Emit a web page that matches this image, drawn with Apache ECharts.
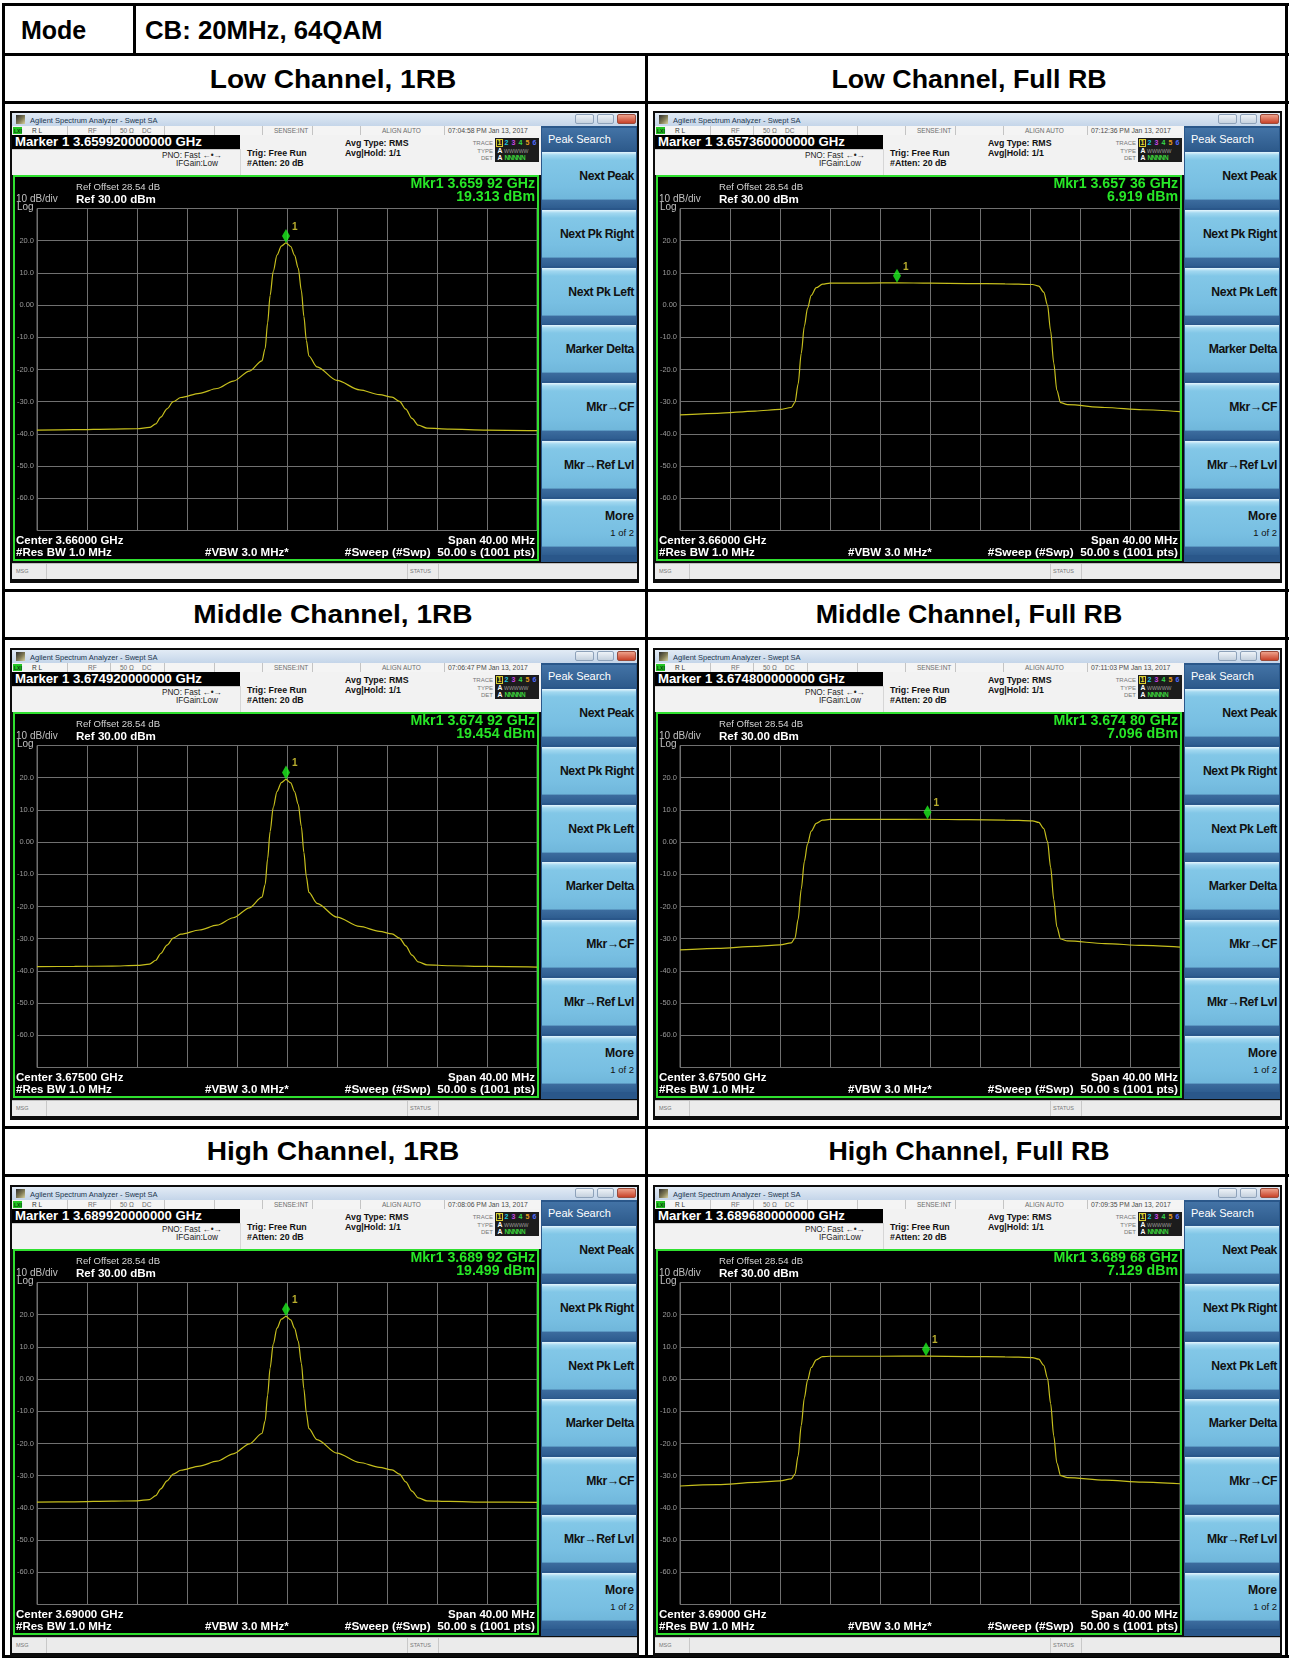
<!DOCTYPE html>
<html>
<head>
<meta charset="utf-8">
<title>CB: 20MHz, 64QAM</title>
<script src="https://cdn.jsdelivr.net/npm/echarts@6.0.0/dist/echarts.min.js"></script>
<style>
  html, body { margin: 0; padding: 0; }
  body { width: 1290px; height: 1659px; background: #fff; position: relative; overflow: hidden;
         font-family: "Liberation Sans", Arial, sans-serif; }
  .abs { position: absolute; }
  .t { position: absolute; white-space: nowrap; }
</style>
</head>
<body>
<script>
// ---- measurement data -------------------------------------------------------
const channelNames = ['Low Channel', 'Middle Channel', 'High Channel'];
const allocations = ['1RB', 'Full RB'];
const modeText = 'CB: 20MHz, 64QAM';

// one entry per screen, row by row: [low 1RB, low full, mid 1RB, mid full, high 1RB, high full]
const centerGHz = [3.66, 3.66, 3.675, 3.675, 3.69, 3.69];
const markerGHz = [3.65992, 3.65736, 3.67492, 3.6748, 3.68992, 3.68968];
const markerDbm = [19.313, 6.919, 19.454, 7.096, 19.499, 7.129];
const sweepClock = ['07:04:58 PM', '07:12:36 PM', '07:06:47 PM', '07:11:03 PM', '07:08:06 PM', '07:09:35 PM'];
const sweepDate = 'Jan 13, 2017';

const spanMHz = 40;
const refLevelDbm = 30;
const dbPerDiv = 10;
const levelTicks = [20, 10, 0, -10, -20, -30, -40, -50, -60];

const softkeys = ['Next Peak', 'Next Pk Right', 'Next Pk Left', 'Marker Delta', 'Mkr\u2192CF', 'Mkr\u2192Ref Lvl', 'More'];

// traces: [offset from center (MHz), level (dBm)]
const lowOneRb = [[-20,-38.8],[-17,-38.7],[-14,-38.5],[-12,-38.4],[-11,-38.0],[-10.5,-36.9],[-10.1,-34.8],[-9.6,-32.2],[-9.1,-30.0],[-8.5,-28.7],[-7.0,-27.4],[-5.6,-25.9],[-4.3,-23.6],[-3.0,-20.5],[-2.0,-17.3],[-1.75,-13.5],[-1.55,-5.5],[-1.35,3.0],[-1.1,10.5],[-0.8,15.5],[-0.45,18.3],[-0.08,19.313],[0.3,18.2],[0.6,15.5],[0.9,11.5],[1.15,4.5],[1.35,-3.5],[1.55,-11.0],[1.75,-15.8],[2.4,-19.2],[4.0,-23.4],[5.8,-26.3],[7.4,-27.8],[8.4,-28.6],[9.0,-29.9],[9.5,-32.3],[10.0,-35.2],[10.5,-37.3],[11.2,-38.2],[13,-38.5],[16,-38.8],[20,-39.0]];
const lowFullRb = [[-20,-34.1],[-17,-33.6],[-14,-32.9],[-12,-32.4],[-11.1,-31.8],[-10.8,-30.2],[-10.55,-24.5],[-10.3,-15.0],[-10.05,-6.5],[-9.8,-1.0],[-9.5,3.0],[-9.1,5.4],[-8.6,6.5],[-8.0,6.85],[-5,6.85],[-2.64,6.919],[0,6.8],[3,6.7],[6,6.6],[8.2,6.4],[8.7,5.9],[9.1,4.0],[9.4,0.0],[9.65,-8.0],[9.9,-18.0],[10.15,-26.5],[10.45,-30.3],[11,-30.9],[14,-31.8],[17,-32.5],[20,-33.1]];
const midOneRb = [[-20,-38.7],[-17,-38.6],[-14,-38.5],[-12,-38.3],[-11,-37.9],[-10.5,-36.7],[-10.1,-34.6],[-9.6,-32.0],[-9.1,-29.8],[-8.5,-28.6],[-7.0,-27.3],[-5.6,-25.8],[-4.3,-23.5],[-3.0,-20.4],[-2.0,-17.1],[-1.75,-13.2],[-1.55,-5.2],[-1.35,3.3],[-1.1,10.8],[-0.8,15.7],[-0.45,18.5],[-0.08,19.454],[0.3,18.4],[0.6,15.7],[0.9,11.7],[1.15,4.8],[1.35,-3.2],[1.55,-10.8],[1.75,-15.6],[2.4,-19.0],[4.0,-23.3],[5.8,-26.2],[7.4,-27.7],[8.4,-28.5],[9.0,-29.8],[9.5,-32.2],[10.0,-35.1],[10.5,-37.2],[11.2,-38.1],[13,-38.4],[16,-38.6],[20,-38.8]];
const midFullRb = [[-20,-33.5],[-17,-33.0],[-14,-32.4],[-12,-31.9],[-11.1,-31.3],[-10.8,-29.8],[-10.55,-24.0],[-10.3,-14.6],[-10.05,-6.0],[-9.8,-0.6],[-9.5,3.4],[-9.1,5.8],[-8.6,6.8],[-8.0,7.05],[-4,7.05],[-0.2,7.096],[3,6.95],[6,6.85],[8.2,6.6],[8.7,6.1],[9.1,4.2],[9.4,0.2],[9.65,-7.8],[9.9,-17.8],[10.15,-26.3],[10.45,-30.1],[11,-30.7],[14,-31.5],[17,-32.1],[20,-32.6]];
const highOneRb = [[-20,-38.2],[-17,-38.1],[-14,-37.9],[-12,-37.8],[-11,-37.4],[-10.5,-36.2],[-10.1,-34.1],[-9.6,-31.6],[-9.1,-29.5],[-8.5,-28.3],[-7.0,-27.0],[-5.6,-25.5],[-4.3,-23.2],[-3.0,-20.1],[-2.0,-16.9],[-1.75,-13.0],[-1.55,-5.0],[-1.35,3.5],[-1.1,10.9],[-0.8,15.8],[-0.45,18.6],[-0.08,19.499],[0.3,18.4],[0.6,15.8],[0.9,11.8],[1.15,4.9],[1.35,-3.0],[1.55,-10.6],[1.75,-15.4],[2.4,-18.8],[4.0,-23.0],[5.8,-25.9],[7.4,-27.4],[8.4,-28.2],[9.0,-29.5],[9.5,-31.9],[10.0,-34.8],[10.5,-36.9],[11.2,-37.8],[13,-38.0],[16,-38.2],[20,-38.3]];
const highFullRb = [[-20,-33.2],[-17,-32.8],[-14,-32.1],[-12,-31.6],[-11.1,-31.0],[-10.8,-29.5],[-10.55,-23.8],[-10.3,-14.4],[-10.05,-5.8],[-9.8,-0.4],[-9.5,3.6],[-9.1,6.0],[-8.6,6.95],[-8.0,7.1],[-4,7.1],[-0.32,7.129],[3,7.0],[6,6.9],[8.2,6.7],[8.7,6.2],[9.1,4.3],[9.4,0.3],[9.65,-7.6],[9.9,-17.6],[10.15,-26.1],[10.45,-30.0],[11,-30.6],[14,-31.4],[17,-32.0],[20,-32.5]];
const traces = [lowOneRb, lowFullRb, midOneRb, midFullRb, highOneRb, highFullRb];

// ---- small DOM helpers ------------------------------------------------------
function box(parent, x, y, w, h, css) {
  const d = document.createElement('div');
  d.className = 'abs';
  d.style.cssText += `left:${x}px;top:${y}px;width:${w}px;height:${h}px;` + (css || '');
  parent.appendChild(d);
  return d;
}
// text centred vertically on y; align = left | right | center (anchor at x)
function txt(parent, x, y, s, size, color, weight, align, extra, sx) {
  const d = document.createElement('div');
  d.className = 't';
  const k = sx || 1;
  const shift = align === 'right' ? 'translate(-100%,-50%)' : align === 'center' ? 'translate(-50%,-50%)' : 'translate(0,-50%)';
  const origin = align === 'right' ? 'right' : align === 'center' ? 'center' : 'left';
  d.style.cssText += `left:${x}px;top:${y}px;font-size:${size}px;line-height:${Math.round(size * 1.2)}px;color:${color};font-weight:${weight || 'normal'};` +
    `transform-origin:${origin} center;transform:${shift} scaleX(${k});` + (extra || '');
  d.textContent = s;
  parent.appendChild(d);
  return d;
}

// ---- table frame ------------------------------------------------------------
const page = document.body;
const ink = 'background:#000;';
[[2,3,1287,3],[2,1655,1287,3],[2,3,3,1655],[1285,3,3,1655],
 [2,53,1287,3],[133,3,3,53],[2,101,1287,3],[2,589,1287,3],[2,637,1287,3],
 [2,1126,1287,3],[2,1174,1287,3],[645,53,3,1605]].forEach(r => box(page, r[0], r[1], r[2], r[3], ink));

txt(page, 21, 30, 'Mode', 25, '#000', 'bold');
txt(page, 145, 30, modeText, 25, '#000', 'bold', null, null, 1.03);

const headerY = [79, 614, 1151];
const colCenter = [333, 969];
channelNames.forEach((ch, r) => {
  allocations.forEach((al, c) => {
    const d = txt(page, colCenter[c], headerY[r], ch + ', ' + al, 26, '#000', 'bold', 'center');
    d.style.transform = 'translate(-50%,-50%) scaleX(' + (c === 0 ? 1.08 : 1.03) + ')';
  });
});

// ---- one analyzer screen ----------------------------------------------------
const panelOrigin = [[10,111],[653,111],[10,648],[653,648],[10,1185],[653,1185]];

function fmtGHz(v, digits) { return v.toFixed(digits); }
function mkrReadout(v) { const s = v.toFixed(5); return s.slice(0, 5) + ' ' + s.slice(5); }

function buildPanel(i) {
  const [px, py] = panelOrigin[i];
  const p = box(page, px, py, 629, 472, 'background:#0c0c0c;');

  // window title bar
  const tb = box(p, 2, 2, 625, 13, 'background:linear-gradient(#e2ebf5,#c4d5e9);');
  box(tb, 4, 2, 9, 9, 'background:linear-gradient(135deg,#2d2d2d 0%,#7f7a55 55%,#d8d2a0 100%);');
  txt(tb, 18, 6.5, 'Agilent Spectrum Analyzer - Swept SA', 7.5, '#22364f');
  box(tb, 563, 1, 19, 10, 'box-sizing:border-box;border:1px solid #8ea2ba;border-radius:2px;background:linear-gradient(#eef3f8,#c5d1de);');
  box(tb, 585, 1, 17, 10, 'box-sizing:border-box;border:1px solid #8ea2ba;border-radius:2px;background:linear-gradient(#eef3f8,#c5d1de);');
  box(tb, 605, 1, 19, 10, 'box-sizing:border-box;border:1px solid #9a4a3a;border-radius:2px;background:linear-gradient(#eea08a,#c8432a);');

  // instrument status strip
  const st = box(p, 2, 15, 529, 9, 'background:#f4f4f4;border-bottom:1px solid #b9b9b9;');
  box(st, 1, 1, 9, 7, 'background:#22c422;');
  txt(st, 2, 4.5, 'LXI', 5, '#0a3a0a', 'bold');
  [55, 98, 152, 202, 250, 300, 348, 432].forEach(x => box(st, x, 0, 1, 9, 'background:#c4c4c4;'));
  const sc = '#6c6c6c';
  txt(st, 20, 4.5, 'R L', 6.5, '#333');
  txt(st, 76, 4.5, 'RF', 6.5, sc);
  txt(st, 108, 4.5, '50 \u03a9', 6.5, sc);
  txt(st, 130, 4.5, 'DC', 6.5, sc);
  txt(st, 262, 4.5, 'SENSE:INT', 6.5, sc);
  txt(st, 370, 4.5, 'ALIGN AUTO', 6.5, sc);
  txt(st, 436, 4.5, sweepClock[i] + ' ' + sweepDate, 6.8, '#4a4a4a');

  // settings area
  const sa = box(p, 2, 24, 529, 40, 'background:#f2f2f2;');
  box(sa, 0, 14, 228, 1, 'background:#c9c9c9;');
  box(sa, 228, 14, 1, 26, 'background:#d6d6d6;');
  box(p, 2, 24, 228, 14, 'background:#000;');
  txt(p, 5, 31, 'Marker 1 ' + fmtGHz(markerGHz[i], 12) + ' GHz', 13.2, '#fff', 'bold');
  txt(p, 152, 45, 'PNO: Fast \u2190\u2022\u2192', 8.2, '#222');
  txt(p, 166, 53, 'IFGain:Low', 8.2, '#222');
  txt(p, 237, 42, 'Trig: Free Run', 8.8, '#111', 'bold');
  txt(p, 237, 52, '#Atten: 20 dB', 8.8, '#111', 'bold');
  txt(p, 335, 32, 'Avg Type: RMS', 8.8, '#111', 'bold');
  txt(p, 335, 42, 'Avg|Hold: 1/1', 8.8, '#111', 'bold');

  // trace table
  txt(p, 483, 32, 'TRACE', 6, '#777', null, 'right');
  txt(p, 483, 39.5, 'TYPE', 6, '#777', null, 'right');
  txt(p, 483, 47, 'DET', 6, '#777', null, 'right');
  const tt = box(p, 485, 27, 44, 24, 'background:#1c1c1c;');
  box(tt, 1, 1, 7, 8, 'box-sizing:border-box;border:1px solid #d8cc30;');
  const traceColors = ['#e8dc30', '#1ec8e0', '#c845e6', '#34d84a', '#e6a020', '#4f6cff'];
  traceColors.forEach((c, k) => txt(tt, 2.5 + k * 7, 5, String(k + 1), 7, c, 'bold'));
  txt(tt, 2.5, 12.5, 'A', 6.8, '#fff', 'bold');
  txt(tt, 9, 12.5, 'WWWWW', 5.2, '#9a9a9a');
  txt(tt, 2.5, 20, 'A', 6.8, '#fff', 'bold');
  txt(tt, 9.5, 20, 'N N N N N', 6.5, '#3bd23b', 'bold', null, 'letter-spacing:-1.2px;');

  // soft keys
  const sk = box(p, 531, 15, 96, 436, 'background:#2a578a;');
  box(sk, 1, 2, 94, 22, 'background:linear-gradient(#4373a6,#2e5b8c);');
  txt(sk, 7, 13, 'Peak Search', 11, '#fff');
  softkeys.forEach((label, k) => {
    const top = 26 + k * 57.8;
    box(sk, 1, top, 94, 56, 'background:linear-gradient(to bottom,#e6f6fd 0px,#a2d8f0 3px,#82c7e7 8px,#78bfe2 62%,#70b7db 84%,#3c6c9e 86%,#2e5d90 100%);');
    if (k === softkeys.length - 1) {
      txt(sk, 93, top + 17, label, 12.2, '#111', 'bold', 'right');
      txt(sk, 93, top + 33, '1 of 2', 9.5, '#111', null, 'right');
    } else {
      txt(sk, 93, top + 24, label, 12.2, '#111', 'bold', 'right', 'letter-spacing:-0.4px;');
    }
  });

  // message bar
  const mb = box(p, 2, 452, 625, 15, 'background:#ebebeb;border-top:1px solid #bfbfbf;');
  box(mb, 34, 0, 1, 15, 'background:#c8c8c8;');
  box(mb, 395, 0, 1, 15, 'background:#c8c8c8;');
  box(mb, 426, 0, 1, 15, 'background:#c8c8c8;');
  txt(mb, 4, 7, 'MSG', 5.5, '#777');
  txt(mb, 398, 7, 'STATUS', 5.5, '#777');

  // measurement display (drawn with ECharts)
  const disp = box(p, 3, 64, 526, 386, 'background:#000;');
  const chartDiv = box(disp, 0, 0, 526, 386, '');
  box(disp, 0, 0, 526, 386, 'box-sizing:border-box;border:2px solid #2fe02f;pointer-events:none;z-index:5;');
  drawDisplay(chartDiv, i);
}

function drawDisplay(dom, i) {
  const chart = echarts.init(dom, null, { renderer: 'canvas', width: 526, height: 386 });
  const mkrOffset = (markerGHz[i] - centerGHz[i]) * 1000;
  const gridColor = '#707070';
  const labelFont = '"Liberation Sans", Arial, sans-serif';
  const textEl = (x, y, s, size, color, weight, align) => ({
    type: 'text', x: x, y: y, silent: true,
    style: { text: s, fill: color, font: `${weight || 'normal'} ${size}px ${labelFont}`, align: align || 'left', verticalAlign: 'middle' }
  });
  chart.setOption({
    animation: false,
    backgroundColor: '#000',
    grid: { left: 24, top: 33.5, width: 500, height: 322, show: true, borderColor: gridColor, borderWidth: 1, backgroundColor: 'transparent' },
    xAxis: {
      type: 'value', min: -spanMHz / 2, max: spanMHz / 2, interval: spanMHz / 10,
      axisLine: { show: false }, axisTick: { show: false }, axisLabel: { show: false },
      splitLine: { show: true, lineStyle: { color: gridColor, width: 1 } }
    },
    yAxis: {
      type: 'value', min: refLevelDbm - 10 * dbPerDiv, max: refLevelDbm, interval: dbPerDiv,
      axisLine: { show: false }, axisTick: { show: false },
      axisLabel: {
        color: '#9a9a9a', fontSize: 7.5, fontFamily: labelFont, margin: 3,
        formatter: v => levelTicks.includes(v) ? (v === 0 ? '0.00' : v.toFixed(1)) : ''
      },
      splitLine: { show: true, lineStyle: { color: gridColor, width: 1 } }
    },
    series: [
      {
        type: 'line', data: traces[i], showSymbol: false, smooth: 0.3, smoothMonotone: 'x',
        lineStyle: { color: '#c6bf1d', width: 1.2 }, silent: true, z: 3
      },
      {
        type: 'scatter', data: [[mkrOffset, markerDbm[i]]], symbol: 'diamond', symbolSize: [8, 14], symbolOffset: [0, -7],
        itemStyle: { color: '#1ef01e' }, silent: true, z: 4,
        label: { show: true, formatter: '1', position: [10, -7], color: '#e6d83a', fontSize: 10, fontWeight: 'bold', fontFamily: labelFont }
      }
    ],
    graphic: [
      textEl(63, 12, 'Ref Offset 28.54 dB', 9.6, '#d4d4d4'),
      textEl(63, 24.5, 'Ref ' + refLevelDbm.toFixed(2) + ' dBm', 11.6, '#ffffff', 'bold'),
      textEl(3, 24.5, dbPerDiv + ' dB/div', 10, '#c0c0c0'),
      textEl(4, 32, 'Log', 10, '#c0c0c0'),
      textEl(522, 9.5, 'Mkr1 ' + mkrReadout(markerGHz[i]) + ' GHz', 14.2, '#27e627', 'bold', 'right'),
      textEl(522, 22.5, markerDbm[i].toFixed(3) + ' dBm', 14.2, '#27e627', 'bold', 'right'),
      textEl(3, 366, 'Center ' + fmtGHz(centerGHz[i], 5) + ' GHz', 11.5, '#ffffff', 'bold'),
      textEl(3, 378, '#Res BW 1.0 MHz', 11.5, '#ffffff', 'bold'),
      textEl(192, 378, '#VBW 3.0 MHz*', 11.5, '#ffffff', 'bold'),
      textEl(522, 366, 'Span ' + spanMHz.toFixed(2) + ' MHz', 11.5, '#ffffff', 'bold', 'right'),
      textEl(522, 378, '#Sweep (#Swp)  50.00 s (1001 pts)', 11.8, '#ffffff', 'bold', 'right')
    ]
  });
}

for (let i = 0; i < 6; i++) buildPanel(i);
</script>
</body>
</html>
